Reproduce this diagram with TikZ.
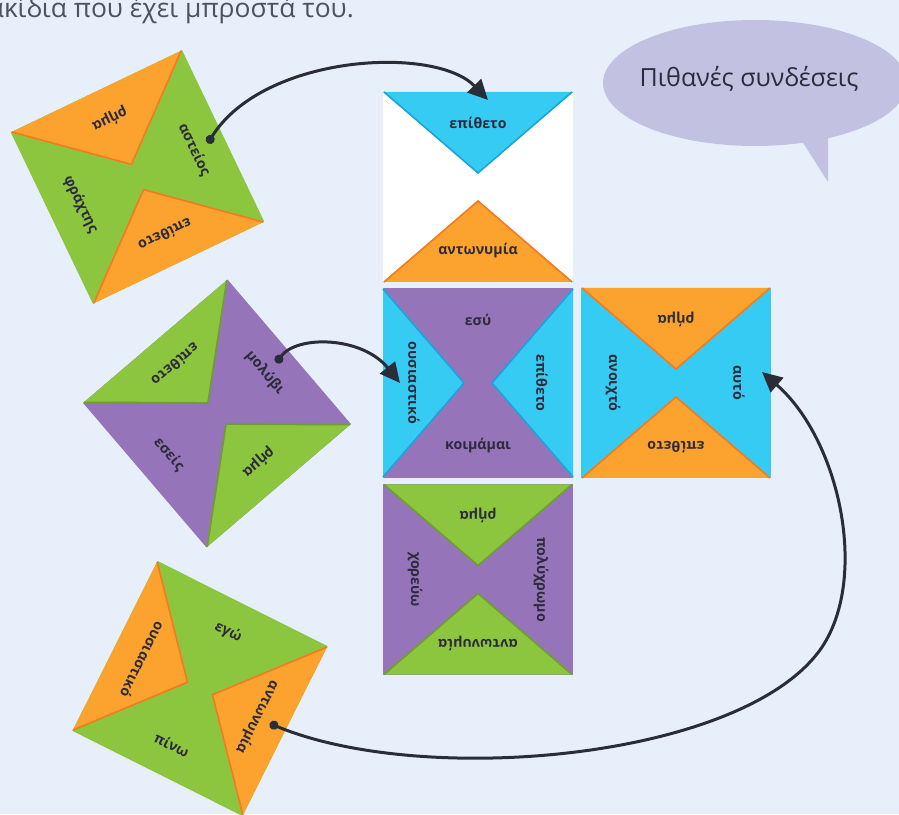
\documentclass[tikz,border=0pt]{standalone}
\usepackage{fontspec}
\setmainfont{Open Sans}
\usetikzlibrary{arrows.meta,positioning}

\definecolor{pagebg}{HTML}{E7F0FA}
\definecolor{tcyan}{HTML}{35CBF3}
\definecolor{tcyanD}{HTML}{1DA3DB}
\definecolor{torange}{HTML}{FCA22E}
\definecolor{torangeD}{HTML}{F47A20}
\definecolor{tgreen}{HTML}{8CC63F}
\definecolor{tgreenD}{HTML}{6E9E2E}
\definecolor{tpurple}{HTML}{9574B9}
\definecolor{tpurpleD}{HTML}{7C5CA3}
\definecolor{twhite}{HTML}{FFFFFF}
\definecolor{twhiteD}{HTML}{FFFFFF}
\definecolor{bubble}{HTML}{C3C1E2}
\definecolor{ink}{HTML}{2D2B3B}
\definecolor{linkcol}{HTML}{2A2C38}
\definecolor{greytext}{HTML}{4D5160}

\tikzset{
  tilebg/.store in=\tilebg,
  tiletop/.store in=\tiletop,
  tilebot/.store in=\tilebot,
  tiletext/.style = {font=\bfseries\fontsize{14.2}{16}\selectfont, text=ink, inner sep=0pt},
  edge/.style     = {line width=1.6pt, line join=miter},
  link/.style     = {draw=linkcol, line width=3pt,
                     {Circle[length=9pt]}-{Triangle[length=20pt,width=19pt]}}
}

% one puzzle square: name, placement/colours, top, bottom, left, right
\newcommand{\tile}[6]{%
  \begin{scope}[#2, transform shape]
    \fill[\tilebg] (-95,-95) rectangle (95,95);
    \fill[\tiletop] (-95,95) -- (95,95) -- (0,14) -- cycle;
    \draw[\tiletop D, edge] (-94,95) -- (0,14) -- (94,95);
    \fill[\tilebot] (-95,-95) -- (95,-95) -- (0,-14) -- cycle;
    \draw[\tilebot D, edge] (-94,-95) -- (0,-14) -- (94,-95);
    \node[tiletext, rotate=180] (#1-top)   at (0,64)  {#3};
    \node[tiletext, rotate=180] (#1-bot)   at (0,-64) {#4};
    \node[tiletext, rotate=-90] (#1-left)  at (-63,0) {#5};
    \node[tiletext, rotate=-90] (#1-right) at (63,0)  {#6};
    \coordinate (#1-t) at (0,78);
    \coordinate (#1-b) at (0,-78);
    \coordinate (#1-l) at (-78,0);
    \coordinate (#1-r) at (78,0);
  \end{scope}}

\begin{document}
\begin{tikzpicture}[x=1pt, y=1pt]

\useasboundingbox (0,0) rectangle (899,814);
\clip (0,0) rectangle (899,814);
\fill[pagebg] (0,0) rectangle (899,814);

% Instruction line (cut at the top)
\node[anchor=base east, font=\fontsize{26.4}{30}\selectfont, text=greytext, inner sep=0pt]
  (intro) at (354,796) {πλακίδια που έχει μπροστά του.};

% Speech bubble
\fill[bubble] (755,731) ellipse [x radius=152, y radius=63];
\fill[bubble] (800,676) -- (828,632) -- (828,678) -- cycle;
\node[font=\fontsize{25}{30}\selectfont, text=ink] (bubbletext) at (749,735) {Πιθανές συνδέσεις};

% Loose squares
\tile{A}{shift={(137.5,637)}, rotate=25.6, tilebg=tgreen, tiletop=torange, tilebot=torange}
  {ρήμα}{επίθετο}{φράχτης}{αστείος}
\tile{B}{shift={(217,400.5)}, rotate=40.5, tilebg=tpurple, tiletop=tgreen, tilebot=tgreen}
  {επίθετο}{ρήμα}{εσείς}{μολύβι}
\tile{C}{shift={(200,125.5)}, rotate=63.4, tilebg=tgreen, tiletop=torange, tilebot=torange}
  {ουσιαστικό}{αντωνυμία}{πίνω}{εγώ}

% Squares already placed
\tile{T1}{shift={(478,627)}, rotate=180, tilebg=twhite, tiletop=torange, tilebot=tcyan}
  {αντωνυμία}{επίθετο}{}{}
\tile{M1}{shift={(478,431)}, rotate=90, tilebg=tpurple, tiletop=tcyan, tilebot=tcyan}
  {ουσιαστικό}{επίθετο}{κοιμάμαι}{εσύ}
\tile{M2}{shift={(676,431)}, tilebg=tcyan, tiletop=torange, tilebot=torange}
  {ρήμα}{επίθετο}{ανοιχτό}{αυτό}
\tile{B1}{shift={(478,234.5)}, tilebg=tpurple, tiletop=tgreen, tilebot=tgreen}
  {ρήμα}{αντωνυμία}{χορεύω}{πολύχρωμο}

% Connections
\draw[link] (A-r) .. controls +(55,89) and +(-53,55) .. ([shift={(10,9)}]T1-b);
\draw[link] (B-r) .. controls +(20,28) and +(-38,47) .. (M1-t);
\coordinate (bend) at (820,164);
\draw[link] (C-b) .. controls +(153,-64) and +(-80,-110) .. (bend)
  .. controls +(50,70) and +(78,-68) .. ([shift={(8,11)}]M2-r);

\end{tikzpicture}
\end{document}
